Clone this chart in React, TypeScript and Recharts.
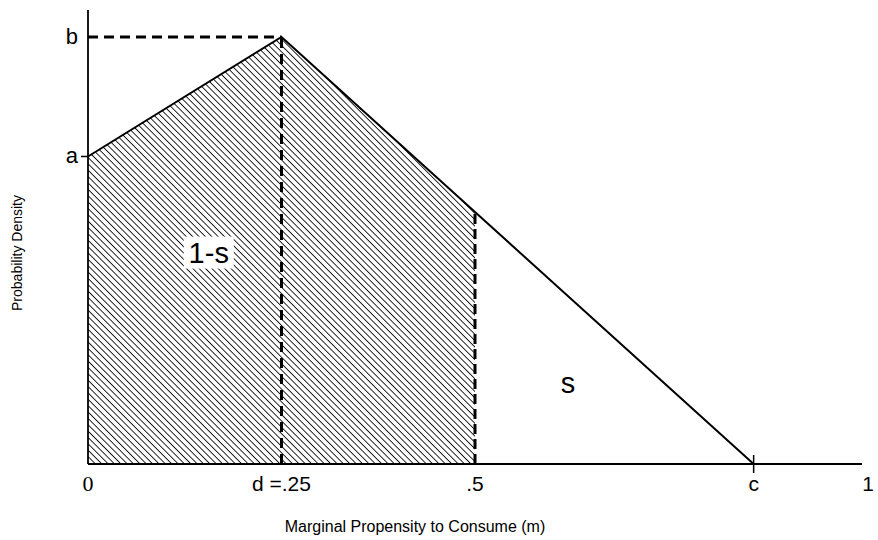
import { ComposedChart, Area, Line, XAxis, YAxis, ReferenceLine, ReferenceDot, Label } from 'recharts';

// x positions of the density's corners: 0, d, .5, c, 1
const xs = [0, 0.25, 0.5, 0.86, 1];
const density = [0.72, 1.0, 0.59, 0, 0];
// shaded part (1-s) runs from 0 up to .5
const shadedUpTo = 0.5;

const xTicks = [0, 0.25, 0.5, 0.86, 1];
const xTickLabels = ['0', 'd =.25', '.5', 'c', '1'];
const yTicks = [0.72, 1.0];
const yTickLabels = ['a', 'b'];

const areaLabels = [
  { text: '1-s', x: 0.156, y: 0.495, boxed: true },
  { text: 's', x: 0.62, y: 0.19, boxed: false },
];

const FONT = 'Arial, "Liberation Sans", sans-serif';

const data = xs.map((x, i) => ({
  x,
  density: density[i],
  shaded: x <= shadedUpTo ? density[i] : null,
}));

function XTick(props: any) {
  const { x, y, payload } = props;
  const idx = xTicks.indexOf(payload.value);
  const label = xTickLabels[idx] ?? '';
  const isZero = label === '0';
  return (
    <g>
      {label === 'c' && <line x1={x} x2={x} y1={y - 9} y2={y + 9} stroke="#000" strokeWidth={1.5} />}
      <text
        x={x + (label === '1' ? 6 : 0)}
        y={y + 27}
        textAnchor="middle"
        fontSize={isZero ? 22 : 21}
        fontFamily={isZero ? '"Liberation Serif", serif' : FONT}
        fill="#000"
      >
        {label}
      </text>
    </g>
  );
}

function YTick(props: any) {
  const { x, y, payload } = props;
  const idx = yTicks.indexOf(payload.value);
  const label = yTickLabels[idx];
  return (
    <g>
      {label === 'a' && <line x1={x - 7} x2={x} y1={y} y2={y} stroke="#000" strokeWidth={1.5} />}
      <text x={x - 10} y={y + 7} textAnchor="end" fontSize={22} fontFamily={FONT} fill="#000">
        {label}
      </text>
    </g>
  );
}

function AreaText(props: any) {
  const { cx, cy, text, boxed } = props;
  return (
    <g>
      {boxed && <rect x={cx - 25} y={cy - 16} width={50} height={32} fill="#fff" />}
      <text x={cx} y={cy + 10} textAnchor="middle" fontSize={29} fontFamily={FONT} fill="#000">
        {text}
      </text>
    </g>
  );
}

export default function App() {
  return (
    <div style={{ position: 'absolute', left: 0, top: 0, background: '#fff' }}>
      <ComposedChart width={878} height={540} data={data} margin={{ top: 10, right: 16, bottom: 0, left: 0 }}>
        <defs>
          <pattern id="hatch" patternUnits="userSpaceOnUse" width={4.5} height={4.5} patternTransform="rotate(-45)">
            <line x1={0} y1={0} x2={0} y2={4.5} stroke="#000" strokeWidth={1.7} />
          </pattern>
        </defs>
        <XAxis
          dataKey="x"
          type="number"
          domain={[0, 1]}
          ticks={xTicks}
          tick={<XTick />}
          tickLine={false}
          tickSize={0}
          tickMargin={0}
          height={76}
          stroke="#000"
          strokeWidth={1.8}
          interval={0}
        >
          <Label
            content={(p: any) => {
              const vb = p.viewBox;
              return (
                <text x={vb.x + vb.width / 2 - 60} y={vb.y + 68} textAnchor="middle" fontSize={16} fontFamily={FONT} fill="#000">
                  Marginal Propensity to Consume (m)
                </text>
              );
            }}
          />
        </XAxis>
        <YAxis
          type="number"
          domain={[0, 1.063]}
          ticks={yTicks}
          tick={<YTick />}
          tickLine={false}
          tickSize={0}
          tickMargin={0}
          width={88}
          stroke="#000"
          strokeWidth={1.8}
          interval={0}
        >
          <Label
            content={() => (
              <text x={22} y={253} transform="rotate(-90 22 253)" textAnchor="middle" fontSize={14} fontFamily={FONT} fill="#000">
                Probability Density
              </text>
            )}
          />
        </YAxis>
        <Area
          type="linear"
          dataKey="shaded"
          fill="url(#hatch)"
          fillOpacity={1}
          stroke="none"
          isAnimationActive={false}
          connectNulls={false}
          dot={false}
          activeDot={false}
        />
        <ReferenceLine
          segment={[{ x: 0, y: density[1] }, { x: xs[1], y: density[1] }]}
          stroke="#000"
          strokeWidth={3}
          strokeDasharray="10 6"
        />
        <ReferenceLine
          segment={[{ x: xs[1], y: 0 }, { x: xs[1], y: density[1] }]}
          stroke="#000"
          strokeWidth={3}
          strokeDasharray="10 6"
        />
        <ReferenceLine
          segment={[{ x: xs[2], y: 0 }, { x: xs[2], y: density[2] }]}
          stroke="#000"
          strokeWidth={3}
          strokeDasharray="10 5"
        />
        <Line
          type="linear"
          dataKey="density"
          stroke="#000"
          strokeWidth={2}
          dot={false}
          activeDot={false}
          isAnimationActive={false}
        />
        {areaLabels.map((l) => (
          <ReferenceDot
            key={l.text}
            x={l.x}
            y={l.y}
            r={0}
            shape={(p: any) => <AreaText cx={p.cx} cy={p.cy} text={l.text} boxed={l.boxed} />}
          />
        ))}
      </ComposedChart>
    </div>
  );
}
